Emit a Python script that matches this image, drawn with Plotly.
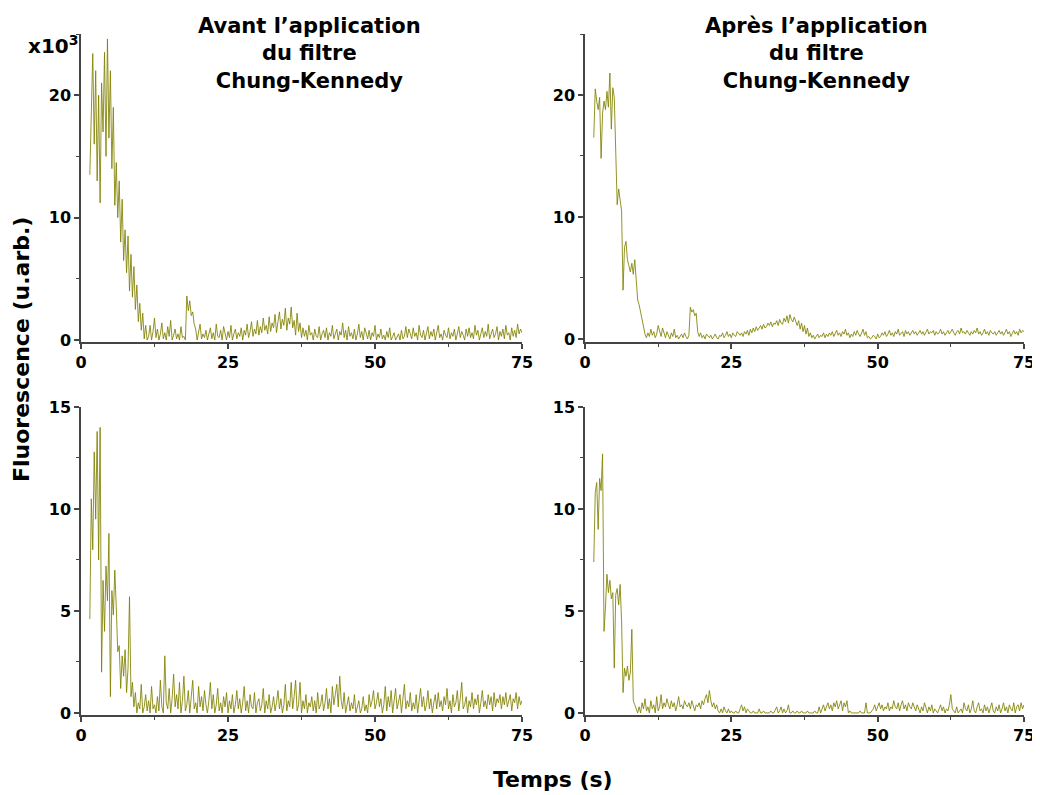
import numpy as np
import plotly.graph_objects as go

# Sampling time grid (s)
temps = np.arange(1.5, 75.0001, 0.25)

# Top-left: before filter (x10^3)
avant_haut = [
    13.5, 19.0, 23.4, 16.0, 22.0, 13.0, 20.0, 11.2, 21.0, 17.0, 23.5, 15.0, 24.6, 16.5, 22.0, 14.0, 19.0, 11.0, 14.5, 10.0,
    13.0, 8.0, 11.5, 6.5, 9.0, 5.5, 8.5, 4.0, 7.0, 3.5, 6.0, 2.5, 4.5, 1.5, 3.0, 0.8, 2.2, 0.1, 1.2, 0.0,
    0.3, 1.2, 0.0, 0.7, 1.8, 0.2, 0.9, 0.0, 0.5, 1.4, 0.1, 0.6, 0.0, 1.1, 0.3, 1.6, 0.0, 0.4, 0.9, 0.1,
    0.5, 0.0, 1.1, 0.2, 0.3, 0.0, 3.6, 2.4, 3.2, 2.0, 2.3, 1.3, 0.9, 0.0, 0.6, 1.3, 0.1, 0.5, 0.2, 0.8,
    0.0, 0.4, 1.0, 0.1, 0.6, 0.0, 1.3, 0.3, 0.2, 0.8, 0.0, 1.1, 0.4, 0.0, 0.7, 0.2, 1.2, 0.0, 0.5, 0.9,
    0.1, 0.6, 0.3, 1.0, 0.0, 0.8, 0.4, 1.3, 0.2, 0.7, 1.5, 0.3, 0.9, 0.5, 1.6, 0.4, 1.1, 0.6, 1.8, 0.8,
    1.2, 0.5, 1.9, 0.7, 1.4, 1.0, 2.1, 0.6, 1.5, 2.3, 0.9, 1.7, 1.2, 2.6, 0.8, 1.8, 1.3, 2.7, 1.0, 1.6,
    0.4, 2.2, 0.7, 1.4, 0.2, 1.0, 0.3, 0.8, 0.0, 1.2, 0.4, 0.6, 0.0, 0.9, 0.3, 0.2, 1.1, 0.0, 0.5, 0.8,
    0.2, 1.0, 0.0, 0.6, 0.3, 1.2, 0.1, 0.5, 0.9, 0.0, 0.7, 0.4, 1.4, 0.2, 0.8, 0.0, 1.1, 0.3, 0.6, 0.1,
    0.9, 0.0, 0.5, 1.3, 0.2, 0.7, 0.0, 1.0, 0.4, 0.1, 0.8, 0.0, 0.6, 0.3, 1.2, 0.0, 0.5, 0.2, 0.9, 0.1,
    0.4, 0.0, 0.7, 0.2, 1.0, 0.0, 0.3, 0.6, 0.0, 0.2, 0.5, 0.0, 0.8, 0.1, 0.3, 1.1, 0.2, 0.9, 0.4, 0.1,
    1.0, 0.3, 0.6, 0.0, 1.2, 0.4, 0.2, 0.8, 0.0, 0.5, 1.1, 0.1, 0.7, 0.3, 0.9, 0.0, 0.6, 1.2, 0.2, 0.5,
    0.0, 0.8, 0.4, 0.2, 1.0, 0.1, 0.6, 0.3, 0.9, 0.0, 0.5, 1.1, 0.2, 0.7, 0.4, 0.0, 0.9, 0.3, 1.0, 0.2,
    0.6, 0.1, 1.2, 0.4, 0.8, 0.0, 0.5, 1.0, 0.2, 0.7, 0.3, 1.3, 0.1, 0.6, 0.9, 0.2, 0.5, 1.1, 0.0, 0.7,
    0.3, 0.9, 0.1, 1.2, 0.4, 0.6, 0.0, 1.0, 0.3, 0.8, 0.2, 1.3, 0.5, 0.9, 0.6,
]

# Top-right: after filter (x10^3)
apres_haut = [
    16.5, 20.5, 19.5, 18.8, 19.8, 14.8, 18.5, 19.5, 18.8, 20.3, 19.0, 21.8, 17.2, 20.6, 19.8, 16.0, 11.0, 12.3, 11.5, 10.5,
    4.0, 7.5, 8.0, 6.5, 6.0, 5.5, 6.2, 5.3, 6.5, 4.5, 3.2, 2.8, 2.2, 1.5, 0.9, 0.4, 0.1, 0.5, 0.2, 0.8,
    0.3, 0.6, 0.1, 0.4, 1.1, 0.5, 0.2, 0.9, 0.4, 0.1, 0.6, 0.3, 0.0, 0.5, 0.2, 0.8, 0.1, 0.3, 0.0, 0.2,
    0.4, 0.1, 0.5, 0.2, 0.0, 0.3, 2.6, 2.2, 2.4, 1.9, 2.1, 0.6, 0.2, 0.5, 0.1, 0.3, 0.0, 0.4, 0.2, 0.1,
    0.3, 0.0, 0.2, 0.4, 0.1, 0.0, 0.3, 0.2, 0.5, 0.1, 0.3, 0.6, 0.2, 0.4, 0.1, 0.5, 0.3, 0.2, 0.6, 0.4,
    0.3, 0.5, 0.2, 0.6, 0.4, 0.7, 0.3, 0.8, 0.5, 0.9, 0.6, 1.0, 0.7, 0.9, 1.1, 0.8, 1.2, 0.9, 1.0, 1.3,
    1.1, 1.4, 1.0, 1.3, 1.2, 1.5, 1.1, 1.6, 1.3, 1.2, 1.7, 1.4, 1.9, 1.3, 2.0, 1.6, 1.4, 1.8, 1.5, 1.1,
    1.5, 0.8, 1.3, 0.6, 1.1, 0.4, 0.9, 0.2, 0.5, 0.1, 0.3, 0.0, 0.2, 0.4, 0.1, 0.3, 0.2, 0.5, 0.1, 0.4,
    0.2, 0.5, 0.3, 0.6, 0.2, 0.4, 0.7, 0.3, 0.5, 0.2, 0.6, 0.4, 0.8, 0.3, 0.5, 0.1, 0.4, 0.2, 0.6, 0.3,
    0.7, 0.4, 0.2, 0.5, 0.8, 0.3, 0.6, 0.1, 0.2, 0.0, 0.1, 0.3, 0.2, 0.0, 0.4, 0.1, 0.2, 0.5, 0.3, 0.6,
    0.2, 0.4, 0.7, 0.3, 0.5, 0.2, 0.6, 0.4, 0.8, 0.3, 0.5, 0.6, 0.2, 0.7, 0.4, 0.6, 0.3, 0.5, 0.7, 0.4,
    0.6, 0.3, 0.5, 0.7, 0.4, 0.6, 0.3, 0.5, 0.8, 0.4, 0.6, 0.5, 0.7, 0.3, 0.6, 0.4, 0.5, 0.8, 0.4, 0.6,
    0.3, 0.5, 0.7, 0.4, 0.6, 0.8, 0.5, 0.3, 0.6, 0.7, 0.4, 0.9, 0.5, 0.6, 0.4, 0.7, 0.5, 0.3, 0.6, 0.4,
    0.7, 0.5, 0.9, 0.4, 0.6, 0.3, 0.5, 0.8, 0.4, 0.6, 0.3, 0.7, 0.5, 0.4, 0.6, 0.3, 0.5, 0.7, 0.4, 0.6,
    0.3, 0.5, 0.8, 0.4, 0.6, 0.2, 0.5, 0.7, 0.4, 0.6, 0.3, 0.8, 0.5, 0.7, 0.6,
]

# Bottom-left: before filter
avant_bas = [
    4.6, 10.5, 8.0, 12.8, 9.5, 13.8, 7.5, 14.0, 2.0, 6.5, 4.0, 7.2, 5.5, 8.8, 0.8, 6.0, 4.8, 7.0, 5.2, 3.0,
    3.3, 1.2, 2.8, 1.8, 3.1, 1.0, 2.2, 5.7, 0.8, 1.5, 0.3, 1.0, 0.0, 0.5, 0.2, 1.4, 0.0, 0.3, 0.9, 0.1,
    0.6, 0.0, 1.3, 0.2, 0.4, 0.0, 0.8, 0.1, 1.6, 0.3, 0.0, 2.8, 0.5, 0.2, 1.2, 0.0, 0.7, 1.9, 0.3, 0.9,
    0.2, 1.5, 0.0, 0.6, 1.8, 0.1, 0.4, 1.1, 0.0, 0.7, 1.6, 0.2, 0.5, 0.0, 1.3, 0.3, 0.8, 0.1, 1.1, 0.4,
    0.0, 0.6, 1.5, 0.2, 0.9, 0.0, 0.4, 1.2, 0.1, 0.5, 0.0, 0.8, 0.3, 1.0, 0.0, 0.6, 0.2, 0.9, 0.0, 0.4,
    1.1, 0.2, 0.7, 0.0, 0.5, 1.3, 0.1, 0.6, 0.0, 0.9, 0.3, 0.2, 1.0, 0.0, 0.5, 0.7, 0.1, 0.4, 1.2, 0.0,
    0.6, 0.2, 0.9, 0.0, 0.3, 0.8, 0.1, 0.5, 1.1, 0.2, 0.7, 0.0, 0.4, 1.4, 0.1, 0.6, 0.3, 1.5, 0.2, 0.8,
    1.6, 0.1, 0.4, 1.5, 0.0, 0.6, 0.2, 0.9, 0.0, 0.5, 0.3, 0.8, 0.1, 0.6, 0.0, 1.0, 0.2, 0.4, 0.9, 0.1,
    0.5, 1.2, 0.2, 0.7, 0.0, 1.3, 0.4, 0.9, 1.4, 0.3, 1.8, 0.6, 0.2, 1.0, 0.0, 0.4, 0.8, 0.1, 0.5, 0.2,
    0.9, 0.0, 0.3, 0.6, 0.0, 0.2, 0.8, 0.1, 0.4, 0.0, 0.9, 0.3, 0.6, 1.1, 0.2, 0.5, 1.0, 0.3, 0.7, 0.0,
    0.4, 1.3, 0.1, 0.8, 0.3, 1.1, 0.0, 0.6, 1.2, 0.2, 0.5, 0.9, 0.0, 0.7, 1.4, 0.2, 0.6, 0.3, 1.0, 0.1,
    0.5, 0.2, 0.9, 0.0, 0.6, 1.2, 0.3, 0.8, 0.1, 0.4, 1.1, 0.2, 0.7, 0.0, 0.5, 0.9, 0.2, 1.0, 0.3, 0.6,
    0.1, 0.8, 0.4, 1.2, 0.2, 0.6, 0.0, 0.9, 0.3, 0.5, 1.1, 0.1, 0.7, 1.5, 0.2, 0.4, 0.8, 0.0, 0.6, 0.3,
    1.0, 0.2, 0.7, 0.4, 0.9, 0.0, 0.5, 1.1, 0.3, 0.6, 0.2, 0.9, 0.4, 0.8, 0.1, 1.0, 0.3, 0.7, 0.5, 0.9,
    0.2, 0.8, 0.4, 1.0, 0.3, 0.6, 0.9, 0.1, 0.7, 0.5, 1.0, 0.2, 0.8, 0.4, 0.6,
]

# Bottom-right: after filter
apres_bas = [
    7.4, 10.8, 11.3, 9.0, 11.5, 10.9, 12.7, 4.0, 5.2, 6.8, 5.9, 6.5, 5.6, 5.9, 2.2, 5.8, 6.1, 5.3, 6.3, 4.5,
    1.0, 2.2, 1.8, 2.3, 1.6, 2.0, 4.1, 0.6, 0.4, 0.2, 0.0, 0.3, 0.0, 0.5, 0.2, 0.7, 0.1, 0.3, 0.0, 0.6,
    0.2, 0.4, 0.0, 0.8, 0.1, 0.3, 0.9, 0.2, 0.5, 0.3, 0.7, 0.4, 0.2, 0.6, 0.3, 0.5, 0.1, 0.4, 0.8, 0.3,
    0.4, 0.2, 0.6, 0.4, 0.3, 0.5, 0.2, 0.6, 0.3, 0.1, 0.4, 0.3, 0.5, 0.2, 0.6, 0.4, 0.7, 0.9, 0.5, 1.1,
    0.6, 0.3, 0.5, 0.2, 0.4, 0.1, 0.0, 0.2, 0.0, 0.3, 0.1, 0.0, 0.2, 0.0, 0.1, 0.0, 0.0, 0.1, 0.0, 0.0,
    0.2, 0.4, 0.1, 0.3, 0.0, 0.2, 0.1, 0.0, 0.0, 0.1, 0.0, 0.0, 0.0, 0.2, 0.0, 0.0, 0.1, 0.0, 0.0, 0.0,
    0.0, 0.1, 0.0, 0.0, 0.2, 0.3, 0.0, 0.1, 0.3, 0.0, 0.2, 0.0, 0.1, 0.4, 0.0, 0.0, 0.1, 0.0, 0.0, 0.1,
    0.0, 0.0, 0.1, 0.0, 0.0, 0.0, 0.1, 0.0, 0.0, 0.0, 0.0, 0.1, 0.0, 0.0, 0.3, 0.0, 0.2, 0.4, 0.1, 0.3,
    0.5, 0.2, 0.4, 0.1, 0.5, 0.3, 0.6, 0.2, 0.4, 0.6, 0.1, 0.5, 0.3, 0.6, 0.0, 0.1, 0.0, 0.0, 0.0, 0.0,
    0.0, 0.0, 0.1, 0.0, 0.0, 0.0, 0.5, 0.0, 0.0, 0.0, 0.1, 0.2, 0.4, 0.1, 0.3, 0.5, 0.2, 0.4, 0.1, 0.3,
    0.2, 0.5, 0.1, 0.3, 0.2, 0.6, 0.3, 0.2, 0.5, 0.1, 0.4, 0.6, 0.2, 0.4, 0.1, 0.5, 0.3, 0.2, 0.5, 0.3,
    0.1, 0.4, 0.2, 0.0, 0.3, 0.1, 0.5, 0.2, 0.0, 0.3, 0.1, 0.4, 0.0, 0.2, 0.1, 0.0, 0.2, 0.4, 0.1, 0.3,
    0.0, 0.2, 0.1, 0.4, 0.9, 0.2, 0.1, 0.0, 0.3, 0.0, 0.1, 0.2, 0.0, 0.5, 0.2, 0.1, 0.4, 0.0, 0.2, 0.6,
    0.1, 0.0, 0.3, 0.5, 0.1, 0.2, 0.0, 0.4, 0.1, 0.3, 0.0, 0.2, 0.5, 0.1, 0.0, 0.3, 0.1, 0.4, 0.0, 0.2,
    0.5, 0.1, 0.3, 0.0, 0.4, 0.2, 0.1, 0.5, 0.0, 0.3, 0.4, 0.1, 0.5, 0.2, 0.4,
]

titre_gauche = "Avant l’application<br>du filtre<br>Chung-Kennedy"
titre_droite = "Après l’application<br>du filtre<br>Chung-Kennedy"
x_ticks = [0, 25, 50, 75]

# The page body keeps an 8 px margin, so the figure is sized to the
# remaining viewport and page positions are shifted by that offset.
OFF = 8
W, H = 1040 - OFF, 795 - OFF
LINE = "rgba(128,128,0,0.85)"
AX = "#444444"
FONT = "DejaVu Sans, Verdana, sans-serif"

fig = go.Figure()
series = [(avant_haut, "x", "y"), (apres_haut, "x2", "y2"),
          (avant_bas, "x3", "y3"), (apres_bas, "x4", "y4")]
for vals, xa, ya in series:
    fig.add_trace(go.Scatter(x=temps[:len(vals)], y=vals, mode="lines",
                             line=dict(color=LINE, width=1),
                             xaxis=xa, yaxis=ya, showlegend=False,
                             hoverinfo="skip"))

def px_x(p):
    return (p - OFF) / W

def px_y(p):
    return 1 - (p - OFF) / H

tickfont = dict(family=FONT, size=16, color="black", weight="bold")

def xax(d0, d1, anchor):
    return dict(domain=[px_x(d0), px_x(d1)], anchor=anchor, range=[0, 75],
                tickvals=x_ticks, ticks="outside", ticklen=5, tickwidth=1.5,
                tickcolor=AX, showline=True, linecolor=AX, linewidth=1.5,
                showgrid=False, zeroline=False, tickfont=tickfont,
                automargin=False,
                minor=dict(dtick=12.5, tick0=0, ticks="outside", ticklen=3,
                           tickcolor=AX, tickwidth=1.2),
                fixedrange=True)

def yax(t, b, anchor, rng, dtick, mdtick):
    return dict(domain=[px_y(b), px_y(t)], anchor=anchor, range=rng,
                dtick=dtick, tick0=0, ticks="outside", ticklen=5, tickwidth=1.5,
                tickcolor=AX, showline=True, linecolor=AX, linewidth=1.5,
                showgrid=False, zeroline=False, tickfont=tickfont,
                automargin=False,
                minor=dict(dtick=mdtick, tick0=0, ticks="outside", ticklen=3,
                           tickcolor=AX, tickwidth=1.2),
                fixedrange=True)

fig.update_layout(
    width=W, height=H, margin=dict(l=0, r=0, t=0, b=0, autoexpand=False),
    paper_bgcolor="white", plot_bgcolor="white",
    xaxis=xax(81, 522, "y"), yaxis=yax(34, 342, "x", [-0.16, 25], 10, 5),
    xaxis2=xax(585, 1024, "y2"), yaxis2=yax(34, 342, "x2", [-0.25, 25], 10, 5),
    xaxis3=xax(81, 522, "y3"), yaxis3=yax(407, 715, "x3", [-0.1, 15], 5, 2.5),
    xaxis4=xax(585, 1024, "y4"), yaxis4=yax(407, 715, "x4", [-0.1, 15], 5, 2.5),
)

ann = [
    dict(text="<b>" + titre_gauche + "</b>", x=px_x(309), y=px_y(12), xanchor="center",
         yanchor="top", font=dict(family=FONT, size=21, color="black")),
    dict(text="<b>" + titre_droite + "</b>", x=px_x(816), y=px_y(12), xanchor="center",
         yanchor="top", font=dict(family=FONT, size=21, color="black")),
    dict(text="<b>x10<sup>3</sup></b>", x=px_x(80), y=px_y(45), xanchor="right",
         yanchor="middle", font=dict(family=FONT, size=20, color="black")),
    dict(text="<b>Fluorescence (u.arb.)</b>", x=px_x(21), y=px_y(350), xanchor="center",
         yanchor="middle", textangle=-90, font=dict(family=FONT, size=22, color="black")),
    dict(text="<b>Temps (s)</b>", x=px_x(553), y=px_y(779), xanchor="center",
         yanchor="middle", font=dict(family=FONT, size=22, color="black")),
]
for a in ann:
    a.update(xref="paper", yref="paper", showarrow=False)
fig.update_layout(annotations=ann)

fig.write_html("out.html")
